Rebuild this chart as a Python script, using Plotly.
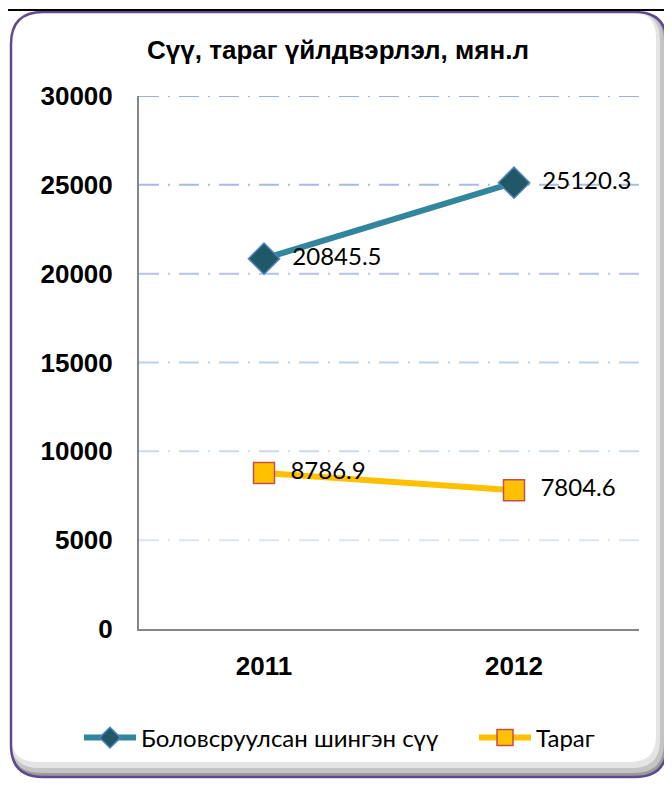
import plotly.graph_objects as go

# ---- data ----
years = ["2011", "2012"]
milk = [20845.5, 25120.3]
yogurt = [8786.9, 7804.6]
milk_labels = ["20845.5", "25120.3"]
yogurt_labels = ["8786.9", "7804.6"]
series_names = ["Боловсруулсан шингэн сүү", "Тараг"]
title_text = "Сүү, тараг үйлдвэрлэл, мян.л"
y_ticks = [0, 5000, 10000, 15000, 20000, 25000, 30000]

OFF = 8  # page body margin offset
W, H = 672 - OFF, 789 - 2 * OFF
L, R, T, B = 139 - OFF, 639 - OFF, 96 - OFF, 629 - OFF  # plot area in figure px


def px(x):
    return (x - OFF - L) / (R - L)


def py(y):
    return (B - (y - OFF)) / (B - T)


def rounded(x0, y0, x1, y1, r):
    p = f"M {px(x0 + r)},{py(y0)} L {px(x1 - r)},{py(y0)} "
    p += f"Q {px(x1)},{py(y0)} {px(x1)},{py(y0 + r)} "
    p += f"L {px(x1)},{py(y1 - r)} Q {px(x1)},{py(y1)} {px(x1 - r)},{py(y1)} "
    p += f"L {px(x0 + r)},{py(y1)} Q {px(x0)},{py(y1)} {px(x0)},{py(y1 - r)} "
    p += f"L {px(x0)},{py(y0 + r)} Q {px(x0)},{py(y0)} {px(x0 + r)},{py(y0)} Z"
    return p


fig = go.Figure()

fig.add_trace(go.Scatter(
    x=years, y=milk, name=series_names[0], mode="lines+markers+text",
    line=dict(color="#31859c", width=6),
    marker=dict(symbol="diamond", size=24, color="#215868",
                line=dict(color="#4f81bd", width=1.5)),
    text=milk_labels, texttemplate="  %{text}", textposition="middle right",
    textfont=dict(family="Lato", size=24, color="#000000"),
    legend="legend",
))
fig.add_trace(go.Scatter(
    x=years, y=yogurt, name=series_names[1], mode="lines+markers+text",
    line=dict(color="#ffc000", width=6),
    marker=dict(symbol="square", size=21, color="#ffc000",
                line=dict(color="#c0504d", width=1.5)),
    text=yogurt_labels, texttemplate="  %{text}", textposition="middle right",
    textfont=dict(family="Lato", size=24, color="#000000"),
    legend="legend2",
))

shapes = []
shapes.append(dict(type="path", xref="paper", yref="paper", layer="below",
                   path=rounded(11, 12, 667, 777, 32), fillcolor="#9a9a9a", line=dict(width=0)))
shapes.append(dict(type="path", xref="paper", yref="paper", layer="below",
                   path=rounded(11, 12, 664, 773, 30), fillcolor="#c4c4c4", line=dict(width=0)))
shapes.append(dict(type="path", xref="paper", yref="paper", layer="below",
                   path=rounded(11, 12, 660, 768, 28), fillcolor="#e4e4e4", line=dict(width=0)))
shapes.append(dict(type="path", xref="paper", yref="paper", layer="below",
                   path=rounded(11, 12, 656, 762, 26), fillcolor="#ffffff", line=dict(width=0)))
shapes.append(dict(type="path", xref="paper", yref="paper", layer="below",
                   path=rounded(11, 12, 667, 777, 32), fillcolor="rgba(0,0,0,0)",
                   line=dict(color="#5f4a8b", width=2.5)))
shapes.append(dict(type="line", xref="paper", yref="paper", layer="below",
                   x0=px(0), x1=px(672), y0=py(10), y1=py(10),
                   line=dict(color="#000000", width=2)))
grid_colors = {5000: "#dbe4f4", 10000: "#cdd9f0", 15000: "#c0cfeb",
               20000: "#b3c6e8", 25000: "#a6bce4", 30000: "#9ab3e0"}
for v in y_ticks[1:]:
    shapes.append(dict(type="line", xref="paper", yref="y", layer="below",
                       x0=0, x1=1, y0=v, y1=v,
                       line=dict(color=grid_colors[v], width=2, dash="20px,9px,2px,9px")))

legend_style = dict(orientation="h", xanchor="left", yanchor="middle", y=py(738),
                    font=dict(family="Lato", size=24, color="#000000"),
                    bgcolor="rgba(0,0,0,0)", itemwidth=52, tracegroupgap=0)

fig.update_layout(
    width=W, height=H,
    margin=dict(l=L, r=W - R, t=T, b=H - B, pad=0, autoexpand=False),
    paper_bgcolor="#ffffff", plot_bgcolor="rgba(0,0,0,0)",
    showlegend=True,
    title=dict(text=title_text, xref="container", x=(338 - OFF) / W, xanchor="center",
               yref="container", y=1 - (50 - OFF) / H, yanchor="middle",
               font=dict(family="Liberation Sans", size=26, color="#000000", weight="bold")),
    legend=dict(x=px(79), **legend_style),
    legend2=dict(x=px(474), **legend_style),
    shapes=shapes,
    xaxis=dict(type="category", range=[-0.5, 1.5], showgrid=False,
               showline=True, linecolor="#868686", linewidth=2,
               ticks="", ticklabelstandoff=13,
               tickfont=dict(family="Liberation Sans", size=26, color="#000000", weight="bold"),
               fixedrange=True),
    yaxis=dict(range=[0, 30000], tickvals=y_ticks, ticktext=[str(v) for v in y_ticks],
               showgrid=False, zeroline=False,
               showline=True, linecolor="#868686", linewidth=2,
               ticks="", ticklabelstandoff=19,
               tickfont=dict(family="Liberation Sans", size=26, color="#000000", weight="bold"),
               fixedrange=True),
)

fig.write_html("out.html")
